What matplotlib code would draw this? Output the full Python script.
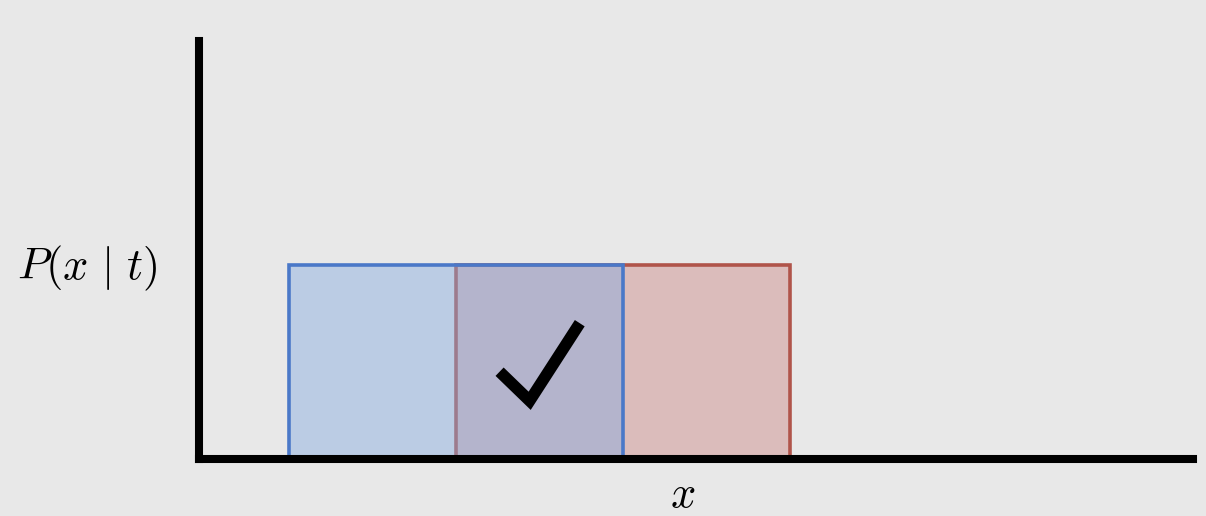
import matplotlib
matplotlib.use("Agg")
import matplotlib.pyplot as plt
from matplotlib.patches import Rectangle

plt.rcParams['mathtext.fontset'] = 'cm'

# Data: two uniform distributions (start, width, height)
dist_names = ["blue", "red"]
dist_starts = [0.27, 0.77]
dist_widths = [1.0, 1.0]
dist_heights = [1.0, 1.0]

# checkmark annotation path (data coordinates)
check_x = [0.90, 0.99, 1.14]
check_y = [0.45, 0.30, 0.70]

BG = "#e8e8e8"
fig = plt.figure(figsize=(12.06, 5.16), dpi=100, facecolor=BG)
W, H = 1206, 516
ax = fig.add_axes([199 / W, (H - 459) / H, (1193 - 199) / W, (459 - 41) / H])
ax.set_facecolor(BG)
ax.set_xlim(0, 994 / 334)
ax.set_ylim(0, 418 / 194)

for s in ["top", "right"]:
    ax.spines[s].set_visible(False)
for s in ["left", "bottom"]:
    ax.spines[s].set_linewidth(5.8)
    ax.spines[s].set_color("black")
    ax.spines[s].set_capstyle("projecting")
    ax.spines[s].set_zorder(10)
ax.set_xticks([])
ax.set_yticks([])

# red drawn first, blue translucent on top
ax.add_patch(Rectangle((dist_starts[1], 0), dist_widths[1], dist_heights[1],
                       facecolor="#dbbcbb", edgecolor="#b0544a", linewidth=2.6, zorder=2))
ax.add_patch(Rectangle((dist_starts[0], 0), dist_widths[0], dist_heights[0],
                       facecolor=(134/255, 172/255, 225/255, 0.45), edgecolor="none",
                       linewidth=0, zorder=3))
ax.add_patch(Rectangle((dist_starts[0], 0), dist_widths[0], dist_heights[0],
                       facecolor="none", edgecolor="#4a78c8", linewidth=2.6, zorder=4))

ax.plot(check_x, check_y, color="black", lw=8.4, solid_capstyle="butt",
        solid_joinstyle="miter", zorder=5)

fig.text(87 / W, 1 - 268 / H, r"$P(x\ |\ t)$", fontsize=32, ha="center", va="center")
fig.text(683 / W, 1 - 494 / H, r"$x$", fontsize=32, ha="center", va="center")

fig.savefig("out.png", dpi=100, facecolor=BG)
